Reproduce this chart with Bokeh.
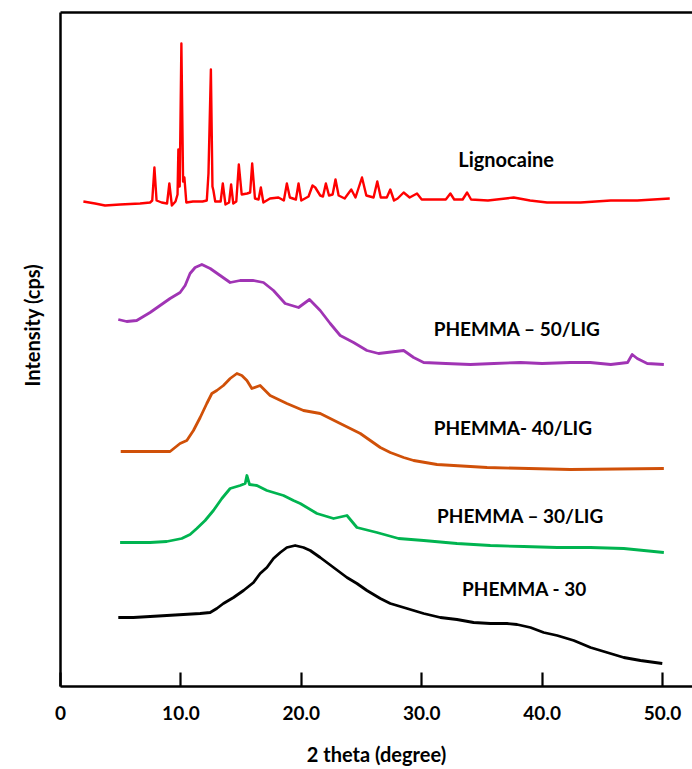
from bokeh.plotting import figure
from bokeh.models import FixedTicker, LinearAxis, Label, Title
from bokeh.embed import file_html
from bokeh.resources import INLINE

# ---------------- data (2 theta in degrees, intensity in arbitrary cps units) ----------------
lig_x = [1.90, 2.87, 3.70, 4.95, 6.61, 7.44, 7.62, 7.80, 7.98, 8.40, 8.85, 9.04, 9.25, 9.55, 9.72,
         9.79, 9.90, 10.04, 10.18, 10.29, 10.45, 11.0, 11.8, 12.15, 12.29, 12.49, 12.62, 12.70, 12.85,
         13.30, 13.48, 13.70, 14.00, 14.17, 14.35, 14.60, 14.81, 15.05, 15.50, 15.75, 15.92, 16.15,
         16.45, 16.64, 16.85, 17.40, 18.10, 18.55, 18.80, 19.05, 19.55, 19.77, 20.00, 20.60, 20.93,
         21.16, 21.57, 21.80, 22.04, 22.30, 22.60, 22.84, 23.10, 23.60, 24.15, 24.50, 25.04, 25.40,
         26.00, 26.31, 26.60, 27.10, 27.39, 27.70, 28.00, 28.50, 29.00, 29.61, 30.00, 31.00, 32.00,
         32.38, 32.70, 33.40, 33.77, 34.10, 35.50, 37.64, 39.00, 40.41, 43.20, 45.70, 47.90, 50.60]
lig_y = [485, 483, 481, 482, 483, 484, 486, 519, 486, 484, 483, 503, 481, 485, 492,
         537, 500, 643, 505, 509, 484, 485, 485, 486, 513, 617, 500, 496, 485,
         485, 503, 482, 484, 502, 483, 485, 522, 492, 493, 494, 523, 488,
         487, 499, 484, 488, 489, 486, 503, 489, 487, 503, 486, 490, 501,
         499, 491, 490, 503, 491, 492, 507, 491, 488, 497, 489, 509, 491,
         489, 505, 489, 489, 497, 486, 488, 494, 489, 493, 487, 487, 487,
         493, 487, 487, 494, 487, 486, 489, 486, 484, 484, 486, 486, 488]

p50_x = [4.80, 5.50, 6.33, 7.44, 8.27, 9.10, 9.93, 10.35, 10.76, 11.18, 11.74, 12.43, 13.26,
         14.09, 14.92, 16.03, 16.86, 17.69, 18.66, 19.77, 20.68, 21.57, 22.40, 23.23, 24.34,
         25.45, 26.42, 27.12, 28.50, 29.33, 30.16, 32.00, 34.04, 36.00, 38.20, 40.00, 42.35,
         44.00, 45.70, 47.10, 47.48, 47.90, 48.73, 50.11]
p50_y = [367, 365, 366, 374, 381, 388, 394, 401, 413, 419, 422, 418, 411,
         404, 406, 406, 404, 396, 383, 379, 387, 376, 363, 351, 344,
         336, 333, 334, 336, 329, 324, 323, 322, 323, 324, 323, 324,
         324, 322, 324, 332, 328, 323, 322]

p40_x = [5.00, 7.44, 9.10, 9.93, 10.49, 11.04, 11.60, 12.15, 12.57, 12.98, 13.53, 14.09, 14.65,
         15.06, 15.48, 15.89, 16.58, 17.41, 18.80, 20.18, 21.57, 23.23, 24.90, 26.56, 27.39,
         28.50, 29.33, 31.27, 35.43, 42.35, 50.11]
p40_y = [235, 235, 235, 243, 246, 256, 269, 283, 293, 296, 301, 308, 313,
         311, 306, 298, 301, 291, 283, 276, 273, 263, 253, 239, 234,
         229, 226, 222, 219, 217, 218]

p30l_x = [4.95, 7.44, 8.83, 10.07, 10.76, 11.32, 12.01, 12.70, 13.40, 14.09, 14.92, 15.34, 15.48,
          15.70, 16.31, 17.14, 18.52, 19.35, 19.91, 21.30, 22.68, 23.79, 24.62, 26.28, 28.08,
          30.16, 32.93, 35.70, 38.47, 41.25, 44.02, 46.78, 50.11]
p30l_y = [144, 144, 145, 148, 152, 158, 166, 176, 188, 198, 201, 203, 211,
          202, 201, 196, 191, 186, 183, 173, 168, 171, 159, 154, 148,
          146, 143, 141, 140, 139, 139, 138, 134]

p30_x = [4.80, 6.05, 7.44, 8.83, 10.21, 11.60, 12.43, 12.98, 13.53, 14.37, 15.20, 16.03, 16.58,
         17.14, 17.69, 18.25, 18.80, 19.49, 20.18, 20.74, 21.57, 22.68, 23.79, 24.62, 25.45,
         26.56, 27.39, 28.78, 30.16, 31.55, 32.93, 34.31, 35.70, 37.09, 37.92, 39.03, 40.13,
         41.25, 42.63, 44.02, 45.40, 46.78, 48.17, 49.98]
p30_y = [69, 69, 70, 71, 72, 73, 74, 78, 83, 89, 96, 104, 113,
         119, 128, 134, 139, 141, 139, 136, 129, 119, 109, 103, 96,
         88, 83, 78, 73, 69, 67, 64, 63, 63, 62, 59, 54,
         51, 46, 39, 34, 29, 26, 23]

series_names = ["Lignocaine", "PHEMMA \u2013 50/LIG", "PHEMMA- 40/LIG", "PHEMMA \u2013 30/LIG", "PHEMMA - 30"]
x_ticks = [0, 10, 20, 30, 40, 50]
x_tick_labels = ["0", "10.0", "20.0", "30.0", "40.0", "50.0"]
x_title = "2 theta (degree)"
y_title = "Intensity (cps)"

# ---------------- figure ----------------
p = figure(width=692, height=769, x_range=(0, 52.49), y_range=(0, 674),
           output_backend="svg", toolbar_location=None,
           min_border_left=60, min_border_right=0, min_border_top=12, min_border_bottom=83)
p.outline_line_color = None
p.grid.visible = False
p.background_fill_color = "white"
p.border_fill_color = "white"

FONT = "Lato"

colors = ["#ff0000", "#a034b4", "#d05008", "#00b450", "#000000"]
widths = [2.4, 2.8, 2.8, 2.8, 2.8]
xs = [lig_x, p50_x, p40_x, p30l_x, p30_x]
ys = [lig_y, p50_y, p40_y, p30l_y, p30_y]
for xv, yv, c, w in zip(xs, ys, colors, widths):
    p.line(xv, yv, line_color=c, line_width=w, line_join="round")

# bottom axis
xa = p.xaxis[0]
xa.ticker = FixedTicker(ticks=x_ticks)
xa.major_label_overrides = {t: l for t, l in zip(x_ticks, x_tick_labels)}
xa.major_tick_in = 14
xa.major_tick_out = 0
xa.minor_tick_in = 0
xa.minor_tick_out = 0
xa.axis_line_width = 2.5
xa.axis_line_color = "black"
xa.major_tick_line_width = 2.2
xa.major_tick_line_color = "black"
xa.major_label_text_font = FONT
xa.major_label_text_font_style = "bold"
xa.major_label_text_font_size = "19px"
xa.major_label_text_color = "black"
xa.major_label_standoff = 19
xa.axis_label = x_title
xa.axis_label_standoff = 19
xa.axis_label_text_font = FONT
xa.axis_label_text_font_style = "bold"
xa.axis_label_text_font_size = "20px"
xa.axis_label_text_color = "black"

# left axis
ya = p.yaxis[0]
ya.ticker = FixedTicker(ticks=[])
ya.major_tick_in = 0
ya.major_tick_out = 0
ya.minor_tick_in = 0
ya.minor_tick_out = 0
ya.major_label_text_font_size = "0px"
ya.axis_line_width = 2.5
ya.axis_line_color = "black"

# top line
top = LinearAxis(ticker=FixedTicker(ticks=[]), major_tick_in=0, major_tick_out=0,
                 minor_tick_in=0, minor_tick_out=0, major_label_text_font_size="0px",
                 axis_line_width=2.5, axis_line_color="black")
p.add_layout(top, "above")

# y title
yt = Title(text=y_title, align="left", offset=300, text_font=FONT, text_font_style="bold",
           text_font_size="20px", text_color="black", standoff=34, vertical_align="bottom")
p.add_layout(yt, "left")

# series labels
label_pos = [(33.04, 528), (30.99, 358), (30.99, 259), (31.27, 171), (33.35, 98)]
label_sizes = ["20px", "19px", "19px", "19px", "19px"]
for name, (lx, ly), fs in zip(series_names, label_pos, label_sizes):
    p.add_layout(Label(x=lx, y=ly, text=name, text_font=FONT, text_font_style="bold",
                       text_font_size=fs, text_align="left", text_baseline="middle",
                       text_color="black"))

open("out.html", "w").write(file_html(p, INLINE))
